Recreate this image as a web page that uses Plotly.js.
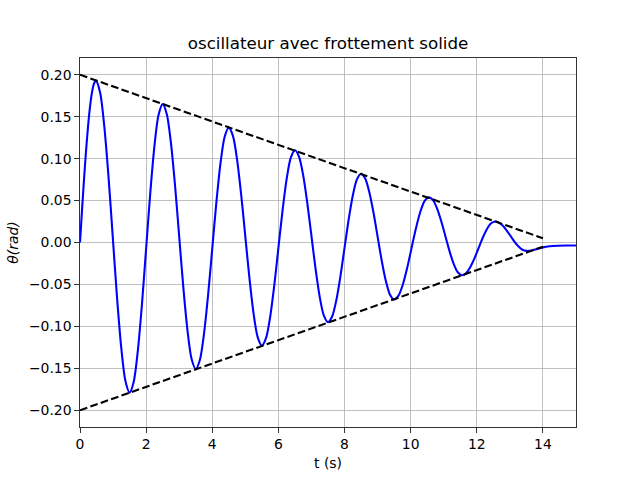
<!DOCTYPE html>
<html>
<head>
<meta charset="utf-8">
<script src="https://cdn.plot.ly/plotly-3.0.1.min.js"></script>
<style>html,body{margin:0;padding:0;background:#fff;}#chart{width:640px;height:480px;}</style>
</head>
<body>
<div id="chart"></div>
<script>
// time samples (s)
var tValues = [0, 0.06, 0.12, 0.18, 0.24, 0.30, 0.36, 0.42, 0.48,
  0.6075, 0.735, 0.8625, 0.99, 1.1175, 1.245, 1.3725, 1.5,
  1.625, 1.75, 1.875, 2.0, 2.125, 2.25, 2.375, 2.5,
  2.625, 2.75, 2.875, 3.0, 3.125, 3.25, 3.375, 3.5,
  3.625, 3.75, 3.875, 4.0, 4.125, 4.25, 4.375, 4.5,
  4.625, 4.75, 4.875, 5.0, 5.125, 5.25, 5.375, 5.5,
  5.625, 5.75, 5.875, 6.0, 6.125, 6.25, 6.375, 6.5,
  6.625, 6.75, 6.875, 7.0, 7.125, 7.25, 7.375, 7.5,
  7.625, 7.75, 7.875, 8.0, 8.125, 8.25, 8.375, 8.5,
  8.625, 8.75, 8.875, 9.0, 9.125, 9.25, 9.375, 9.5,
  9.631, 9.763, 9.894, 10.025, 10.156, 10.288, 10.419, 10.55,
  10.675, 10.8, 10.925, 11.05, 11.175, 11.3, 11.425, 11.55,
  11.675, 11.8, 11.925, 12.05, 12.175, 12.3, 12.425, 12.55,
  12.669, 12.788, 12.906, 13.025, 13.144, 13.263, 13.381, 13.5,
  13.65, 13.8, 14.0, 14.2, 14.45, 14.7, 15.0];
// angle theta (rad)
var thetaValues = [0, 0.038, 0.0744, 0.1078, 0.137, 0.1608, 0.1784, 0.1892, 0.193,
  0.1789, 0.1385, 0.0782, 0.007, -0.0642, -0.1245, -0.1649, -0.179,
  -0.1659, -0.1286, -0.0729, -0.007, 0.0589, 0.1146, 0.1519, 0.165,
  0.153, 0.1187, 0.0675, 0.007, -0.0535, -0.1047, -0.139, -0.151,
  -0.1401, -0.1088, -0.0622, -0.007, 0.0482, 0.0948, 0.1261, 0.137,
  0.1271, 0.0989, 0.0568, 0.007, -0.0428, -0.0849, -0.1131, -0.123,
  -0.1141, -0.0889, -0.0511, -0.0065, 0.0381, 0.0759, 0.1011, 0.110,
  0.1022, 0.080, 0.0468, 0.0075, -0.0318, -0.065, -0.0872, -0.095,
  -0.0883, -0.0691, -0.0404, -0.0065, 0.0274, 0.0561, 0.0753, 0.082,
  0.0763, 0.060, 0.0357, 0.007, -0.0217, -0.046, -0.0623, -0.068,
  -0.0634, -0.0501, -0.0304, -0.007, 0.0164, 0.0361, 0.0494, 0.054,
  0.0505, 0.0404, 0.0253, 0.0075, -0.0103, -0.0254, -0.0355, -0.039,
  -0.0366, -0.0296, -0.0193, -0.007, 0.0053, 0.0156, 0.0226, 0.025,
  0.0237, 0.0199, 0.0142, 0.0075, 0.0008, -0.0049, -0.0087, -0.010,
  -0.0095, -0.008, -0.0058, -0.0045, -0.0038, -0.0036, -0.0036];
// envelope lines
var envT = [0, 14];
var envUpper = [0.2, 0.005];
var envLower = [-0.2, -0.005];
// ticks
var xTicks = [0, 2, 4, 6, 8, 10, 12, 14];
var yTicks = [-0.20, -0.15, -0.10, -0.05, 0.00, 0.05, 0.10, 0.15, 0.20];

var dashStyle = {color: '#000000', width: 2.08, dash: '7.7px,3.3px'};
var traces = [
  {x: tValues, y: thetaValues, type: 'scatter', mode: 'lines',
   line: {color: '#0000ff', width: 2.08, shape: 'spline', smoothing: 0.8}, hoverinfo: 'skip'},
  {x: envT, y: envUpper, type: 'scatter', mode: 'lines', line: dashStyle, hoverinfo: 'skip'},
  {x: envT, y: envLower, type: 'scatter', mode: 'lines', line: dashStyle, hoverinfo: 'skip'}
];

var axisCommon = {
  showgrid: true, gridcolor: '#b0b0b0', gridwidth: 0.8,
  zeroline: false, showline: true, linecolor: '#000000', linewidth: 0.8, mirror: true,
  ticks: 'outside', ticklen: 4.9, tickwidth: 0.8, tickcolor: '#000000',
  tickfont: {family: 'DejaVu Sans', size: 13.9, color: '#000000'}
};

var layout = {
  width: 640, height: 480,
  margin: {l: 80, r: 64, t: 58, b: 53, pad: 0},
  paper_bgcolor: '#ffffff', plot_bgcolor: '#ffffff',
  showlegend: false,
  font: {family: 'DejaVu Sans', color: '#000000'},
  title: {text: 'oscillateur avec frottement solide', font: {family: 'DejaVu Sans', size: 16.7, color: '#000000'},
          x: 0.5, xref: 'paper', xanchor: 'center', y: 1, yref: 'paper', yanchor: 'bottom', pad: {b: 9}},
  xaxis: Object.assign({}, axisCommon, {
    range: [0, 15], tickvals: xTicks, ticktext: xTicks.map(String),
    title: {text: 't (s)', font: {family: 'DejaVu Sans', size: 13.9, color: '#000000'}, standoff: 6}
  }),
  yaxis: Object.assign({}, axisCommon, {
    range: [-0.22, 0.22], tickvals: yTicks, ticktext: yTicks.map(function(v){return v.toFixed(2).replace('-', '\u2212');}),
    title: {text: '<i>θ(rad)</i>', font: {family: 'DejaVu Sans', size: 13.9, color: '#000000'}, standoff: 6}
  })
};

Plotly.newPlot('chart', traces, layout, {displayModeBar: false, staticPlot: true});
</script>
</body>
</html>
